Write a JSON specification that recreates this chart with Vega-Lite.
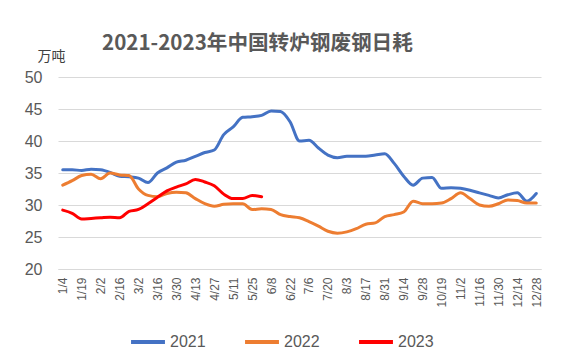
{
  "$schema": "https://vega.github.io/schema/vega-lite/v6.json",
  "width": 483,
  "height": 192,
  "autosize": {"type": "none"},
  "padding": {"left": 58, "top": 77, "right": 20, "bottom": 90},
  "background": "white",
  "title": {
    "text": "2021-2023年中国转炉钢废钢日耗",
    "font": "Noto Sans CJK SC",
    "fontSize": 20.6,
    "fontWeight": "bold",
    "color": "#595959",
    "anchor": "start",
    "frame": "group",
    "dx": 44,
    "baseline": "alphabetic",
    "offset": -22
  },
  "config": {
    "view": {"stroke": null},
    "font": "Open Sans"
  },
  "data": {
    "values": [
      {"d":"1/4","i":0,"y":"2021","v":35.5},{"d":"1/11","i":1,"y":"2021","v":35.5},{"d":"1/19","i":2,"y":"2021","v":35.4},{"d":"1/26","i":3,"y":"2021","v":35.6},{"d":"2/2","i":4,"y":"2021","v":35.5},{"d":"2/9","i":5,"y":"2021","v":35.1},{"d":"2/16","i":6,"y":"2021","v":34.5},{"d":"2/23","i":7,"y":"2021","v":34.4},{"d":"3/2","i":8,"y":"2021","v":34.2},{"d":"3/9","i":9,"y":"2021","v":33.5},{"d":"3/16","i":10,"y":"2021","v":35.0},{"d":"3/23","i":11,"y":"2021","v":35.8},{"d":"3/30","i":12,"y":"2021","v":36.7},{"d":"4/6","i":13,"y":"2021","v":37.0},{"d":"4/13","i":14,"y":"2021","v":37.6},{"d":"4/20","i":15,"y":"2021","v":38.2},{"d":"4/27","i":16,"y":"2021","v":38.6},{"d":"5/4","i":17,"y":"2021","v":41.0},{"d":"5/11","i":18,"y":"2021","v":42.2},{"d":"5/18","i":19,"y":"2021","v":43.7},{"d":"5/25","i":20,"y":"2021","v":43.8},{"d":"6/1","i":21,"y":"2021","v":44.0},{"d":"6/8","i":22,"y":"2021","v":44.7},{"d":"6/15","i":23,"y":"2021","v":44.6},{"d":"6/22","i":24,"y":"2021","v":43.0},{"d":"6/29","i":25,"y":"2021","v":40.0},{"d":"7/6","i":26,"y":"2021","v":40.1},{"d":"7/13","i":27,"y":"2021","v":38.9},{"d":"7/20","i":28,"y":"2021","v":37.8},{"d":"7/27","i":29,"y":"2021","v":37.4},{"d":"8/3","i":30,"y":"2021","v":37.6},{"d":"8/10","i":31,"y":"2021","v":37.6},{"d":"8/17","i":32,"y":"2021","v":37.6},{"d":"8/24","i":33,"y":"2021","v":37.8},{"d":"8/31","i":34,"y":"2021","v":38.0},{"d":"9/7","i":35,"y":"2021","v":36.5},{"d":"9/14","i":36,"y":"2021","v":34.5},{"d":"9/21","i":37,"y":"2021","v":33.1},{"d":"9/28","i":38,"y":"2021","v":34.2},{"d":"10/12","i":39,"y":"2021","v":34.3},{"d":"10/19","i":40,"y":"2021","v":32.6},{"d":"10/26","i":41,"y":"2021","v":32.7},{"d":"11/2","i":42,"y":"2021","v":32.6},{"d":"11/9","i":43,"y":"2021","v":32.3},{"d":"11/16","i":44,"y":"2021","v":31.9},{"d":"11/23","i":45,"y":"2021","v":31.5},{"d":"11/30","i":46,"y":"2021","v":31.1},{"d":"12/7","i":47,"y":"2021","v":31.6},{"d":"12/14","i":48,"y":"2021","v":31.9},{"d":"12/21","i":49,"y":"2021","v":30.6},{"d":"12/28","i":50,"y":"2021","v":31.8},
      {"d":"1/4","i":0,"y":"2022","v":33.1},{"d":"1/11","i":1,"y":"2022","v":33.8},{"d":"1/19","i":2,"y":"2022","v":34.6},{"d":"1/26","i":3,"y":"2022","v":34.8},{"d":"2/2","i":4,"y":"2022","v":34.1},{"d":"2/9","i":5,"y":"2022","v":35.0},{"d":"2/16","i":6,"y":"2022","v":34.7},{"d":"2/23","i":7,"y":"2022","v":34.6},{"d":"3/2","i":8,"y":"2022","v":32.5},{"d":"3/9","i":9,"y":"2022","v":31.5},{"d":"3/16","i":10,"y":"2022","v":31.3},{"d":"3/23","i":11,"y":"2022","v":31.8},{"d":"3/30","i":12,"y":"2022","v":32.0},{"d":"4/6","i":13,"y":"2022","v":31.9},{"d":"4/13","i":14,"y":"2022","v":31.0},{"d":"4/20","i":15,"y":"2022","v":30.2},{"d":"4/27","i":16,"y":"2022","v":29.8},{"d":"5/4","i":17,"y":"2022","v":30.1},{"d":"5/11","i":18,"y":"2022","v":30.2},{"d":"5/18","i":19,"y":"2022","v":30.2},{"d":"5/25","i":20,"y":"2022","v":29.3},{"d":"6/1","i":21,"y":"2022","v":29.4},{"d":"6/8","i":22,"y":"2022","v":29.3},{"d":"6/15","i":23,"y":"2022","v":28.5},{"d":"6/22","i":24,"y":"2022","v":28.2},{"d":"6/29","i":25,"y":"2022","v":28.0},{"d":"7/6","i":26,"y":"2022","v":27.4},{"d":"7/13","i":27,"y":"2022","v":26.7},{"d":"7/20","i":28,"y":"2022","v":25.9},{"d":"7/27","i":29,"y":"2022","v":25.6},{"d":"8/3","i":30,"y":"2022","v":25.8},{"d":"8/10","i":31,"y":"2022","v":26.3},{"d":"8/17","i":32,"y":"2022","v":27.0},{"d":"8/24","i":33,"y":"2022","v":27.2},{"d":"8/31","i":34,"y":"2022","v":28.2},{"d":"9/7","i":35,"y":"2022","v":28.5},{"d":"9/14","i":36,"y":"2022","v":28.9},{"d":"9/21","i":37,"y":"2022","v":30.6},{"d":"9/28","i":38,"y":"2022","v":30.2},{"d":"10/12","i":39,"y":"2022","v":30.2},{"d":"10/19","i":40,"y":"2022","v":30.3},{"d":"10/26","i":41,"y":"2022","v":31.0},{"d":"11/2","i":42,"y":"2022","v":31.9},{"d":"11/9","i":43,"y":"2022","v":31.0},{"d":"11/16","i":44,"y":"2022","v":30.0},{"d":"11/23","i":45,"y":"2022","v":29.8},{"d":"11/30","i":46,"y":"2022","v":30.2},{"d":"12/7","i":47,"y":"2022","v":30.8},{"d":"12/14","i":48,"y":"2022","v":30.7},{"d":"12/21","i":49,"y":"2022","v":30.3},{"d":"12/28","i":50,"y":"2022","v":30.3},
      {"d":"1/4","i":0,"y":"2023","v":29.2},{"d":"1/11","i":1,"y":"2023","v":28.7},{"d":"1/19","i":2,"y":"2023","v":27.8},{"d":"1/26","i":3,"y":"2023","v":27.9},{"d":"2/2","i":4,"y":"2023","v":28.0},{"d":"2/9","i":5,"y":"2023","v":28.1},{"d":"2/16","i":6,"y":"2023","v":28.0},{"d":"2/23","i":7,"y":"2023","v":29.0},{"d":"3/2","i":8,"y":"2023","v":29.3},{"d":"3/9","i":9,"y":"2023","v":30.2},{"d":"3/16","i":10,"y":"2023","v":31.2},{"d":"3/23","i":11,"y":"2023","v":32.2},{"d":"3/30","i":12,"y":"2023","v":32.8},{"d":"4/6","i":13,"y":"2023","v":33.3},{"d":"4/13","i":14,"y":"2023","v":34.0},{"d":"4/20","i":15,"y":"2023","v":33.6},{"d":"4/27","i":16,"y":"2023","v":33.0},{"d":"5/4","i":17,"y":"2023","v":31.7},{"d":"5/11","i":18,"y":"2023","v":31.0},{"d":"5/18","i":19,"y":"2023","v":31.0},{"d":"5/25","i":20,"y":"2023","v":31.5},{"d":"6/1","i":21,"y":"2023","v":31.3}
    ]
  },
  "mark": {"type": "line", "interpolate": "monotone", "strokeWidth": 3, "strokeCap": "round"},
  "encoding": {
    "x": {
      "field": "d",
      "type": "ordinal",
      "sort": {"field": "i", "op": "min"},
      "scale": {"type": "point", "padding": 0.5},
      "axis": {
        "title": null,
        "values": ["1/4","1/19","2/2","2/16","3/2","3/16","3/30","4/13","4/27","5/11","5/25","6/8","6/22","7/6","7/20","8/3","8/17","8/31","9/14","9/28","10/19","11/2","11/16","11/30","12/14","12/28"],
        "labelAngle": -90,
        "labelFontSize": 12,
        "labelColor": "#595959",
        "labelFont": "Liberation Sans",
        "labelPadding": 8,
        "ticks": false,
        "domainColor": "#d9d9d9",
        "grid": false
      }
    },
    "y": {
      "field": "v",
      "type": "quantitative",
      "scale": {"domain": [20, 50], "nice": false, "zero": false},
      "axis": {
        "values": [20, 25, 30, 35, 40, 45, 50],
        "title": "万吨",
        "titleAngle": 0,
        "titleFont": "Noto Sans CJK SC",
        "titleFontSize": 14,
        "titleFontWeight": "normal",
        "titleColor": "#404040",
        "titleX": -7,
        "titleY": -17,
        "titleAlign": "center",
        "titleBaseline": "alphabetic",
        "labelFontSize": 16,
        "labelColor": "#595959",
        "labelFont": "Liberation Sans",
        "labelPadding": 16,
        "ticks": false,
        "domain": false,
        "gridColor": "#d9d9d9",
        "gridWidth": 1
      }
    },
    "color": {
      "field": "y",
      "type": "nominal",
      "scale": {"domain": ["2021", "2022", "2023"], "range": ["#4472C4", "#ED7D31", "#FF0000"]},
      "legend": {
        "title": null,
        "orient": "none",
        "direction": "horizontal",
        "legendX": 71,
        "legendY": 246,
        "symbolType": "stroke",
        "symbolSize": 1150,
        "symbolStrokeWidth": 4,
        "labelFontSize": 16,
        "labelColor": "#595959",
        "labelFont": "Liberation Sans",
        "labelOffset": 3,
        "columnPadding": 31
      }
    }
  }
}
